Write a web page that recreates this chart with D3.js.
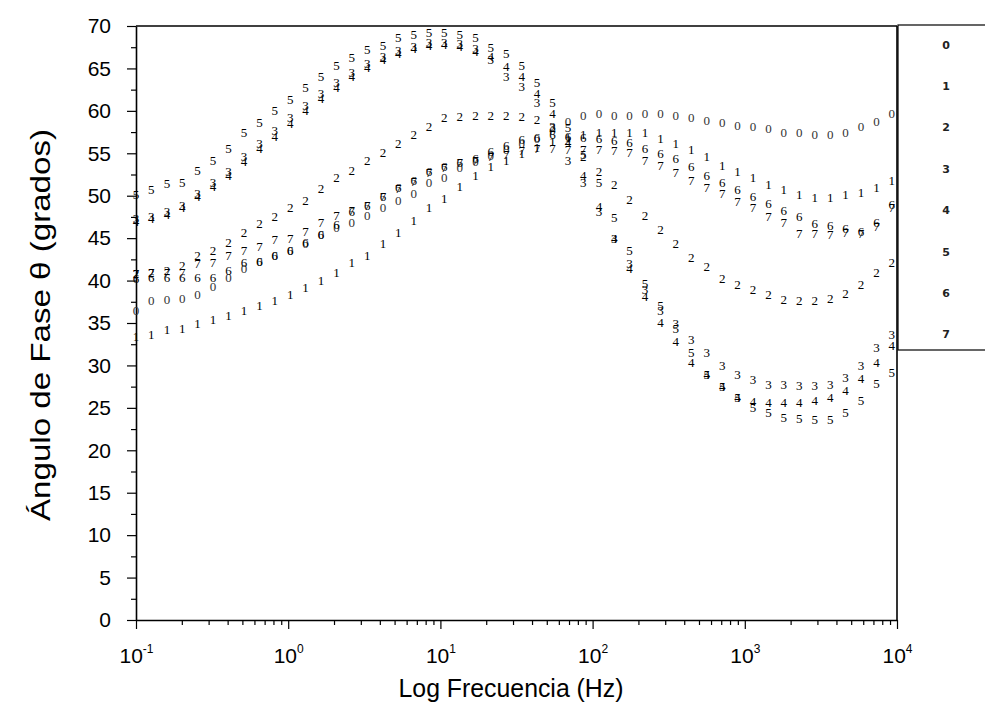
<!DOCTYPE html>
<html>
<head>
<meta charset="utf-8">
<script src="https://cdn.jsdelivr.net/npm/d3@7"></script>
<style>
  body { margin: 0; background: #fff; }
</style>
</head>
<body>
<div id="chart"></div>
<script>
// frequencies (Hz), roughly 10 per decade
var freqs = [0.1, 0.126, 0.16, 0.201, 0.254, 0.321, 0.406, 0.512, 0.647, 0.817,
  1.03, 1.30, 1.64, 2.08, 2.62, 3.31, 4.19, 5.29, 6.67, 8.43,
  10.6, 13.4, 17.0, 21.4, 27.1, 34.2, 43.2, 54.5, 68.9, 86.9,
  110, 139, 175, 221, 279, 352, 445, 562, 710, 897,
  1132, 1430, 1806, 2280, 2880, 3637, 4593, 5800, 7325, 9250];

// phase angle (degrees) per sample
var s0 = [36.5, 37.7, 37.8, 37.9, 38.4, 39.3, 40.4, 41.4, 42.2, 42.9,
  43.6, 44.4, 45.4, 46.2, 46.9, 47.7, 48.6, 49.4, 50.3, 51.5,
  52.2, 53.3, 54.0, 54.7, 55.4, 56.2, 56.8, 57.7, 58.7, 59.4,
  59.7, 59.5, 59.5, 59.7, 59.7, 59.5, 59.2, 58.9, 58.6, 58.3,
  58.1, 57.9, 57.5, 57.4, 57.2, 57.2, 57.5, 58.1, 58.7, 59.7];
var s1 = [33.4, 33.6, 34.2, 34.4, 35.0, 35.4, 35.9, 36.5, 37.1, 37.7,
  38.3, 39.2, 40.0, 41.0, 42.1, 43.0, 44.4, 45.7, 47.1, 48.6,
  49.7, 51.1, 52.4, 53.4, 54.2, 55.0, 55.7, 56.4, 56.9, 57.2,
  57.4, 57.4, 57.4, 57.4, 56.8, 56.2, 55.4, 54.6, 53.6, 52.8,
  52.1, 51.3, 50.7, 50.1, 49.8, 49.8, 50.1, 50.4, 51.0, 51.8];
var s2 = [40.8, 41.0, 41.2, 41.8, 42.9, 43.6, 44.5, 45.7, 46.7, 47.6,
  48.6, 49.4, 50.9, 52.1, 53.0, 54.2, 55.1, 56.2, 57.2, 58.1,
  59.2, 59.3, 59.5, 59.5, 59.5, 59.3, 59.0, 58.0, 56.5, 54.6,
  52.8, 51.3, 49.5, 47.7, 46.0, 44.4, 42.7, 41.6, 40.3, 39.5,
  38.9, 38.3, 37.8, 37.7, 37.7, 37.9, 38.5, 39.5, 40.9, 42.1];
var s3 = [47.3, 47.6, 48.1, 48.9, 50.3, 51.5, 52.8, 54.6, 56.2, 57.7,
  59.2, 60.6, 62.0, 63.3, 64.5, 65.6, 66.4, 67.1, 67.6, 68.0,
  68.1, 67.9, 67.3, 66.0, 64.0, 62.9, 61.0, 58.1, 54.2, 51.6,
  48.1, 45.0, 42.0, 38.9, 36.5, 35.0, 33.0, 31.5, 30.0, 28.9,
  28.3, 27.7, 27.7, 27.6, 27.6, 27.7, 28.6, 30.0, 32.1, 33.6];
var s4 = [47.0, 47.3, 47.8, 48.6, 49.9, 51.1, 52.4, 54.0, 55.6, 57.0,
  58.5, 60.0, 61.5, 62.8, 64.0, 65.1, 66.0, 66.8, 67.4, 67.7,
  67.8, 67.6, 67.0, 66.4, 65.2, 64.1, 62.1, 59.7, 56.3, 52.4,
  48.7, 45.0, 41.4, 38.1, 35.1, 32.8, 30.3, 28.9, 27.5, 26.2,
  25.7, 25.6, 25.6, 25.6, 25.9, 26.2, 27.1, 28.5, 30.4, 32.4];
var s5 = [50.1, 50.7, 51.4, 51.6, 53.0, 54.2, 55.6, 57.4, 58.6, 60.0,
  61.3, 62.7, 64.1, 65.3, 66.3, 67.2, 67.7, 68.6, 69.0, 69.2,
  69.2, 69.0, 68.6, 67.5, 66.8, 65.3, 63.3, 61.0, 58.0, 54.8,
  51.5, 47.4, 43.6, 39.7, 37.1, 34.4, 31.5, 28.9, 27.5, 26.2,
  25.0, 24.4, 23.9, 23.7, 23.6, 23.6, 24.5, 25.9, 27.9, 29.2];
var s6 = [40.3, 40.4, 40.4, 40.4, 40.4, 40.4, 41.2, 42.1, 42.3, 43.0,
  43.6, 44.5, 45.4, 46.6, 48.1, 48.9, 49.9, 51.0, 51.8, 52.8,
  53.4, 53.9, 54.4, 55.2, 55.9, 56.6, 56.9, 57.2, 57.0, 56.9,
  56.8, 56.5, 56.3, 55.6, 55.0, 54.4, 53.4, 52.4, 51.5, 50.7,
  49.9, 49.1, 48.3, 47.5, 46.7, 46.5, 46.1, 45.8, 46.9, 49.0];
var s7 = [40.8, 40.9, 41.0, 40.9, 42.0, 42.1, 43.0, 43.6, 44.0, 44.8,
  45.0, 45.8, 46.8, 47.7, 48.2, 48.9, 49.9, 50.9, 51.7, 52.7,
  53.3, 53.9, 54.2, 54.6, 54.9, 55.3, 55.6, 55.6, 55.5, 55.5,
  55.4, 55.3, 55.1, 54.2, 53.6, 52.7, 51.8, 51.0, 50.3, 49.3,
  48.6, 47.5, 46.8, 45.6, 45.5, 45.4, 45.7, 45.6, 46.4, 48.6];

var seriesNames = ["0", "1", "2", "3", "4", "5", "6", "7"];
var seriesVals = [s0, s1, s2, s3, s4, s5, s6, s7];
var yTicks = [0, 5, 10, 15, 20, 25, 30, 35, 40, 45, 50, 55, 60, 65, 70];
var xDecades = [0.1, 1, 10, 100, 1000, 10000];
var xExps = ["-1", "0", "1", "2", "3", "4"];

var W = 985, H = 713;
var svg = d3.select("#chart").append("svg")
  .attr("width", W)
  .attr("height", H)
  .style("font-family", "'Liberation Sans', Arial, sans-serif");

var x = d3.scaleLog().domain([0.1, 10000]).range([136, 897]);
var y = d3.scaleLinear().domain([0, 70]).range([620, 26]);

// minor ticks
var xMinor = [];
xDecades.slice(0, 5).forEach(function (d) {
  for (var k = 2; k <= 9; k++) xMinor.push(d * k);
});
var yMinor = yTicks.slice(0, 14).map(function (v) { return v + 2.5; });

svg.append("g")
  .attr("transform", "translate(0,620)")
  .call(d3.axisBottom(x).tickValues(xMinor).tickSize(5).tickSizeOuter(0).tickFormat(""))
  .call(function (g) { g.select(".domain").remove(); });

svg.append("g")
  .attr("transform", "translate(136,0)")
  .call(d3.axisLeft(y).tickValues(yMinor).tickSize(5).tickSizeOuter(0).tickFormat(""))
  .call(function (g) { g.select(".domain").remove(); });

// main x axis
var gx = svg.append("g")
  .attr("transform", "translate(0,620)")
  .call(d3.axisBottom(x).tickValues(xDecades).tickSize(9).tickSizeOuter(0).tickFormat(""));

gx.selectAll(".tick").each(function (d, i) {
  var t = d3.select(this).append("text")
    .attr("y", 43)
    .attr("fill", "#000")
    .attr("text-anchor", "middle")
    .style("font-size", "21px");
  t.append("tspan").text("10");
  t.append("tspan").attr("dy", -10).style("font-size", "12px").text(xExps[i]);
});

// main y axis
var gy = svg.append("g")
  .attr("transform", "translate(136,0)")
  .call(d3.axisLeft(y).tickValues(yTicks).tickSize(9).tickSizeOuter(0));
gy.selectAll("text")
  .attr("x", -25)
  .attr("fill", "#000")
  .style("font-size", "21px")
  .style("font-family", "'Liberation Sans', Arial, sans-serif");

svg.selectAll(".domain").attr("stroke", "#000").attr("stroke-width", 1.6);
svg.selectAll(".tick line").attr("stroke", "#000").attr("stroke-width", 1.2);

// frame top and right
svg.append("line")
  .attr("x1", x(0.1)).attr("x2", x(10000))
  .attr("y1", y(70)).attr("y2", y(70))
  .attr("stroke", "#000").attr("stroke-width", 1.4);
svg.append("line")
  .attr("x1", x(10000)).attr("x2", x(10000))
  .attr("y1", y(70)).attr("y2", y(0))
  .attr("stroke", "#000").attr("stroke-width", 1.6);

// data markers drawn as the series digit
seriesVals.forEach(function (vals, k) {
  svg.append("g").selectAll("text")
    .data(vals)
    .enter()
      .append("text")
      .attr("x", function (d, i) { return x(freqs[i]); })
      .attr("y", function (d) { return y(d); })
      .attr("text-anchor", "middle")
      .attr("dominant-baseline", "central")
      .style("font-family", "'Liberation Serif', 'Times New Roman', serif")
      .style("font-size", "13px")
      .attr("fill", k === 0 ? "#333" : "#000")
      .text(seriesNames[k]);
});

// legend box
var leg = svg.append("g");
leg.append("rect")
  .attr("x", 898).attr("y", 25)
  .attr("width", 120).attr("height", 325)
  .attr("fill", "#fff")
  .attr("stroke", "#000").attr("stroke-width", 1.2);
leg.selectAll("text")
  .data(seriesNames)
  .enter()
    .append("text")
    .attr("x", 946)
    .attr("y", function (d, i) { return 45 + i * 41.4; })
    .attr("text-anchor", "middle")
    .attr("dominant-baseline", "central")
    .style("font-family", "'DejaVu Sans', Verdana, sans-serif")
    .style("font-size", "11px")
    .style("font-weight", "bold")
    .attr("fill", "#222")
    .text(function (d) { return d; });

// axis titles
svg.append("text")
  .attr("x", 511).attr("y", 697)
  .attr("text-anchor", "middle")
  .attr("textLength", 225)
  .attr("lengthAdjust", "spacingAndGlyphs")
  .style("font-size", "25px")
  .text("Log Frecuencia (Hz)");

svg.append("text")
  .attr("transform", "translate(50,325) rotate(-90)")
  .attr("text-anchor", "middle")
  .attr("textLength", 392)
  .attr("lengthAdjust", "spacingAndGlyphs")
  .style("font-size", "27px")
  .text("Ángulo de Fase θ (grados)");
</script>
</body>
</html>
